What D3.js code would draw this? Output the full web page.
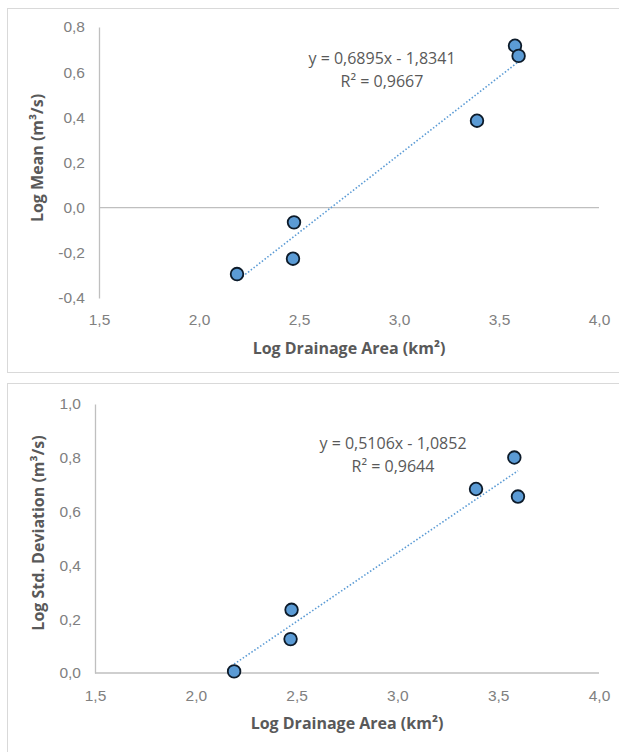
<!DOCTYPE html>
<html>
<head>
<meta charset="utf-8">
<script src="https://cdn.jsdelivr.net/npm/d3@7"></script>
<style>
  body { margin: 0; background: #fff; }
  svg { display: block; font-family: "Open Sans", sans-serif; }
</style>
</head>
<body>
<script>
// log drainage area of the six stations (shared by both panels)
var logArea = [2.19, 2.47, 2.475, 3.39, 3.58, 3.598];
var logMean = [-0.294, -0.226, -0.065, 0.385, 0.717, 0.672];
var logStd = [0.006, 0.126, 0.235, 0.684, 0.801, 0.656];

var xTicks = [1.5, 2.0, 2.5, 3.0, 3.5, 4.0];
var meanTicks = [-0.4, -0.2, 0.0, 0.2, 0.4, 0.6, 0.8];
var stdTicks = [0.0, 0.2, 0.4, 0.6, 0.8, 1.0];

// trend lines (slope, intercept, r2) as printed by excel
var meanFit = [0.6895, -1.8341, "0,9667"];
var stdFit = [0.5106, -1.0852, "0,9644"];

var width = 619,
    height = 752

var svg = d3.select("body").append("svg")
    .attr("width", width)
    .attr("height", height);

var fmt = function(v) { return v.toFixed(1).replace(".", ","); };
var fmtEq = function(v) { return Math.abs(v).toFixed(4).replace(".", ","); };

// frames
svg.append("rect").attr("x", 7.5).attr("y", 8.5).attr("width", 620).attr("height", 364)
    .attr("fill", "none").attr("stroke", "#d9d9d9");
svg.append("rect").attr("x", 7.5).attr("y", 383.5).attr("width", 620).attr("height", 380)
    .attr("fill", "none").attr("stroke", "#d9d9d9");

function drawChart(cfg) {
  var g = svg.append("g");

  var x = d3.scaleLinear().domain([1.5, 4]).range(cfg.xRange);
  var y = d3.scaleLinear().domain(cfg.yDomain).range(cfg.yRange);

  // y axis (line + labels)
  var yAxis = g.append("g")
      .attr("transform", "translate(" + cfg.xRange[0] + ",0)")
      .call(d3.axisLeft(y).tickValues(cfg.yTicks).tickFormat(fmt).tickSize(0).tickPadding(14));
  yAxis.select(".domain").attr("stroke", "#bfbfbf").attr("stroke-width", 1.3);
  yAxis.selectAll("text").attr("fill", "#808080").style("font-size", "15.5px");

  // horizontal line at zero
  g.append("line")
      .attr("x1", x(1.5)).attr("x2", x(4))
      .attr("y1", y(0)).attr("y2", y(0))
      .attr("stroke", "#bfbfbf").attr("stroke-width", 1.3);

  // x labels at the bottom
  var xAxis = g.append("g")
      .attr("transform", "translate(0," + cfg.xLabelY + ")")
      .call(d3.axisBottom(x).tickValues(xTicks).tickFormat(fmt).tickSize(0));
  xAxis.select(".domain").remove();
  xAxis.selectAll("text").attr("fill", "#808080").style("font-size", "15.5px");

  // trend line
  var fit = cfg.fit;
  var ext = d3.extent(logArea);
  g.append("line")
      .attr("x1", x(ext[0])).attr("y1", y(fit[0] * ext[0] + fit[1]))
      .attr("x2", x(ext[1])).attr("y2", y(fit[0] * ext[1] + fit[1]))
      .attr("stroke", "#5b9bd5")
      .attr("stroke-width", 1.6)
      .attr("stroke-dasharray", "1.5,2");

  // points
  g.selectAll("circle")
      .data(logArea.map(function(d, i) { return [d, cfg.values[i]]; }))
      .enter().append("circle")
      .attr("cx", function(d) { return x(d[0]); })
      .attr("cy", function(d) { return y(d[1]); })
      .attr("r", 6.3)
      .attr("fill", "#5b9bd5")
      .attr("stroke", "#0d1b2a")
      .attr("stroke-width", 1.8);

  // equation
  g.append("text")
      .attr("x", cfg.eqX).attr("y", cfg.eqY)
      .attr("text-anchor", "middle")
      .attr("fill", "#595959")
      .style("font-size", "16px")
      .text("y = " + fmtEq(fit[0]) + "x - " + fmtEq(fit[1]));
  g.append("text")
      .attr("x", cfg.eqX).attr("y", cfg.eqY + 23)
      .attr("text-anchor", "middle")
      .attr("fill", "#595959")
      .style("font-size", "16px")
      .text("R² = " + fit[2]);

  // axis titles
  g.append("text")
      .attr("x", (cfg.xRange[0] + cfg.xRange[1]) / 2)
      .attr("y", cfg.xTitleY)
      .attr("text-anchor", "middle")
      .attr("fill", "#595959")
      .style("font-size", "16px")
      .style("font-weight", "bold")
      .text("Log Drainage Area (km²)");

  g.append("text")
      .attr("transform", "translate(" + cfg.yTitleX + "," + cfg.yTitleY + ") rotate(-90)")
      .attr("text-anchor", "middle")
      .attr("fill", "#595959")
      .style("font-size", "16px")
      .style("font-weight", "bold")
      .text(cfg.yTitle);
}

drawChart({
  values: logMean, fit: meanFit, yTicks: meanTicks,
  xRange: [99, 599], yDomain: [-0.4, 0.8], yRange: [298, 27],
  xLabelY: 311, xTitleY: 354,
  yTitle: "Log Mean (m³/s)", yTitleX: 43, yTitleY: 158,
  eqX: 382, eqY: 64
});

drawChart({
  values: logStd, fit: stdFit, yTicks: stdTicks,
  xRange: [95, 599], yDomain: [0, 1], yRange: [673, 404],
  xLabelY: 687, xTitleY: 729,
  yTitle: "Log Std. Deviation (m³/s)", yTitleX: 44, yTitleY: 533,
  eqX: 393, eqY: 449
});
</script>
</body>
</html>
